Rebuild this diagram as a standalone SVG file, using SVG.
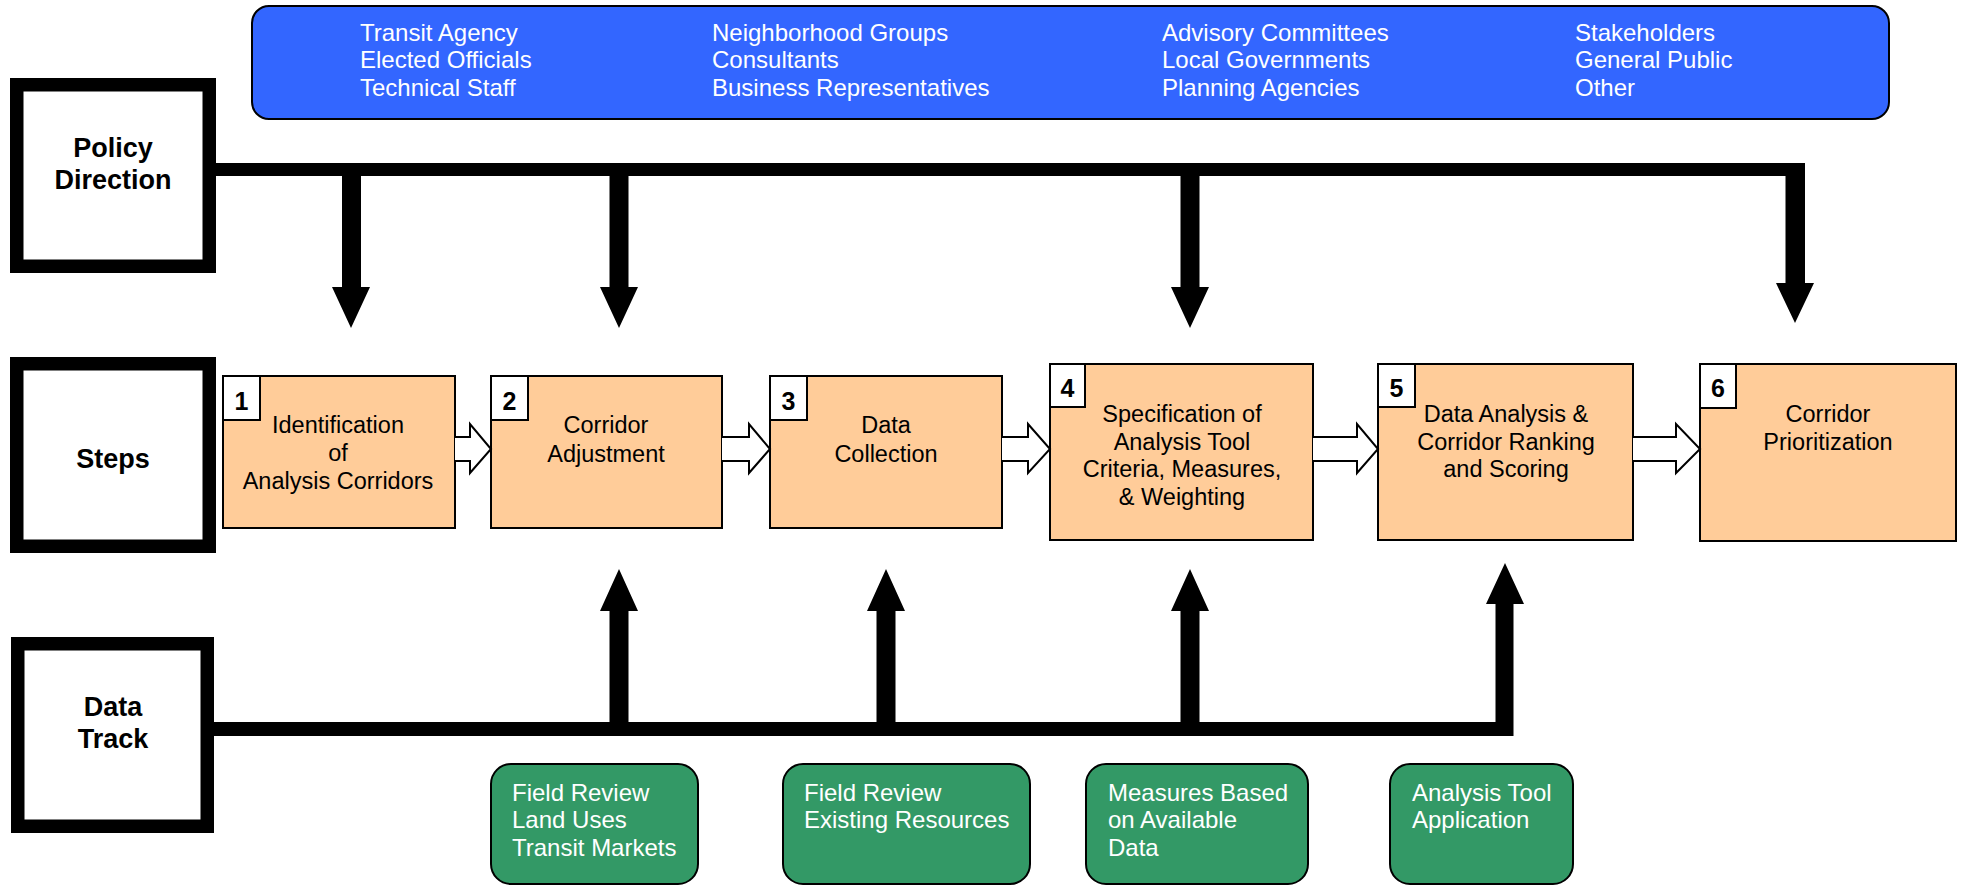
<svg xmlns="http://www.w3.org/2000/svg" width="1961" height="886" viewBox="0 0 1961 886">
<style>
text{font-family:"Liberation Sans",Arial,sans-serif;}
.lane{fill:#fff;stroke:#000;stroke-width:13.5;}
.lbl{font-size:27px;font-weight:bold;fill:#000;text-anchor:middle;}
.step{fill:#FFCC99;stroke:#000;stroke-width:2;}
.num{fill:#fff;stroke:#000;stroke-width:2;}
.numt{font-size:25px;font-weight:bold;fill:#000;text-anchor:middle;}
.st{font-size:23.5px;fill:#000;text-anchor:middle;}
.grn{fill:#339966;stroke:#000;stroke-width:2;}
.wt{font-size:24px;fill:#fff;}
.blk{fill:#000;}
.hol{fill:#fff;stroke:#000;stroke-width:2;stroke-linejoin:miter;}
</style>
<rect width="1961" height="886" fill="#fff"/>

<g id="stakeholders">
<rect x="252" y="6" width="1637" height="113" rx="17" fill="#3366FF" stroke="#000" stroke-width="2"/>
<text class="wt" x="360" y="41">Transit Agency</text>
<text class="wt" x="360" y="68">Elected Officials</text>
<text class="wt" x="360" y="96">Technical Staff</text>
<text class="wt" x="712" y="41">Neighborhood Groups</text>
<text class="wt" x="712" y="68">Consultants</text>
<text class="wt" x="712" y="96">Business Representatives</text>
<text class="wt" x="1162" y="41">Advisory Committees</text>
<text class="wt" x="1162" y="68">Local Governments</text>
<text class="wt" x="1162" y="96">Planning Agencies</text>
<text class="wt" x="1575" y="41">Stakeholders</text>
<text class="wt" x="1575" y="68">General Public</text>
<text class="wt" x="1575" y="96">Other</text>
</g>

<g id="policy-direction">
<rect class="lane" x="16.75" y="84.75" width="192.5" height="181.5"/>
<text class="lbl" x="113" y="157">Policy</text>
<text class="lbl" x="113" y="189">Direction</text>
</g>

<g id="steps">
<rect class="lane" x="16.75" y="363.75" width="192.5" height="182.5"/>
<text class="lbl" x="113" y="468">Steps</text>
</g>

<g id="data-track">
<rect class="lane" x="17.75" y="643.75" width="189.5" height="182.5"/>
<text class="lbl" x="113" y="716">Data</text>
<text class="lbl" x="113" y="748">Track</text>
</g>

<g id="step1">
<rect class="step" x="223" y="376" width="232" height="152"/>
<rect class="num" x="223" y="376" width="37" height="44"/>
<text class="numt" x="241.5" y="410">1</text>
<text class="st" x="338" y="433">Identification</text>
<text class="st" x="338" y="461">of</text>
<text class="st" x="338" y="489">Analysis Corridors</text>
</g>

<g id="step2">
<rect class="step" x="491" y="376" width="231" height="152"/>
<rect class="num" x="491" y="376" width="37" height="44"/>
<text class="numt" x="509.5" y="410">2</text>
<text class="st" x="606" y="433">Corridor</text>
<text class="st" x="606" y="462">Adjustment</text>
</g>

<g id="step3">
<rect class="step" x="770" y="376" width="232" height="152"/>
<rect class="num" x="770" y="376" width="37" height="44"/>
<text class="numt" x="788.5" y="410">3</text>
<text class="st" x="886" y="433">Data</text>
<text class="st" x="886" y="462">Collection</text>
</g>

<g id="step4">
<rect class="step" x="1050" y="364" width="263" height="176"/>
<rect class="num" x="1050" y="364" width="35" height="43"/>
<text class="numt" x="1067.5" y="397">4</text>
<text class="st" x="1182" y="422">Specification of</text>
<text class="st" x="1182" y="450">Analysis Tool</text>
<text class="st" x="1182" y="477">Criteria, Measures,</text>
<text class="st" x="1182" y="505">&amp; Weighting</text>
</g>

<g id="step5">
<rect class="step" x="1378" y="364" width="255" height="176"/>
<rect class="num" x="1378" y="364" width="37" height="43"/>
<text class="numt" x="1396.5" y="397">5</text>
<text class="st" x="1506" y="422">Data Analysis &amp;</text>
<text class="st" x="1506" y="450">Corridor Ranking</text>
<text class="st" x="1506" y="477">and Scoring</text>
</g>

<g id="step6">
<rect class="step" x="1700" y="364" width="256" height="177"/>
<rect class="num" x="1700" y="364" width="36" height="44"/>
<text class="numt" x="1718" y="397">6</text>
<text class="st" x="1828" y="422">Corridor</text>
<text class="st" x="1828" y="450">Prioritization</text>
</g>

<g id="data1">
<rect class="grn" x="491" y="764" width="207" height="120" rx="20"/>
<text class="wt" x="512" y="801">Field Review</text>
<text class="wt" x="512" y="828">Land Uses</text>
<text class="wt" x="512" y="856">Transit Markets</text>
</g>
<g id="data2">
<rect class="grn" x="783" y="764" width="247" height="120" rx="20"/>
<text class="wt" x="804" y="801">Field Review</text>
<text class="wt" x="804" y="828">Existing Resources</text>
</g>
<g id="data3">
<rect class="grn" x="1086" y="764" width="222" height="120" rx="20"/>
<text class="wt" x="1108" y="801">Measures Based</text>
<text class="wt" x="1108" y="828">on Available</text>
<text class="wt" x="1108" y="856">Data</text>
</g>
<g id="data4">
<rect class="grn" x="1390" y="764" width="183" height="120" rx="20"/>
<text class="wt" x="1412" y="801">Analysis Tool</text>
<text class="wt" x="1412" y="828">Application</text>
</g>

<g id="connectors">
<rect class="blk" x="216" y="163" width="1589" height="13"/>
<path class="blk" d="M342,176 V287 H332 L351,328 L370,287 H361 V176 Z"/>
<path class="blk" d="M609.5,176 V287 H600 L619,328 L638,287 H628.5 V176 Z"/>
<path class="blk" d="M1180.5,176 V287 H1171 L1190,328 L1209,287 H1199.5 V176 Z"/>
<path class="blk" d="M1785.5,170 V283 H1776 L1795,323 L1814,283 H1805 V163 H1785.5 Z"/>
<rect class="blk" x="214" y="722" width="1299" height="14"/>
<path class="blk" d="M609.5,722 V611 H600 L619,569 L638,611 H628.5 V722 Z"/>
<path class="blk" d="M876.5,722 V611 H867 L886,569 L905,611 H895.5 V722 Z"/>
<path class="blk" d="M1180.5,722 V611 H1171 L1190,569 L1209,611 H1199.5 V722 Z"/>
<path class="blk" d="M1495.5,736 V604 H1486 L1505,563 L1524,604 H1513.5 V736 Z"/>
<path class="hol" d="M455,437 H470 V424 L491,449 L470,473 V461 H455"/>
<path class="hol" d="M722,437 H749 V424 L770,449 L749,473 V461 H722"/>
<path class="hol" d="M1002,437 H1028 V424 L1050,449 L1028,473 V461 H1002"/>
<path class="hol" d="M1313,437 H1357 V424 L1378,449 L1357,473 V461 H1313"/>
<path class="hol" d="M1633,437 H1676 V424 L1700,449 L1676,473 V461 H1633"/>
</g>
</svg>
